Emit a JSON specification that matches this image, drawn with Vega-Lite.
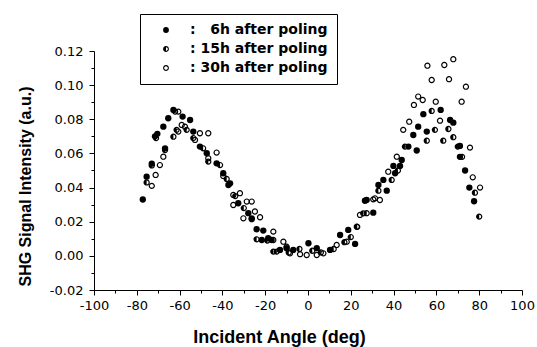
{
  "$schema": "https://vega.github.io/schema/vega-lite/v6.json",
  "width": 428,
  "height": 239,
  "autosize": "none",
  "padding": {"left": 94, "top": 51, "right": 15, "bottom": 57},
  "background": "white",
  "config": {
    "view": {"stroke": null},
    "locale": {"number": {"decimal": ".", "thousands": ",", "grouping": [3], "currency": ["$", ""], "minus": "-"}},
    "axis": {"grid": false, "domainColor": "black", "tickColor": "black", "labelColor": "black", "titleColor": "black"}
  },
  "data": {
    "values": [
      {"angle": -77.2, "signal": 0.033, "series": "6h"},
      {"angle": -75.4, "signal": 0.0464, "series": "6h"},
      {"angle": -73.0, "signal": 0.054, "series": "6h"},
      {"angle": -71.5, "signal": 0.070, "series": "6h"},
      {"angle": -70.4, "signal": 0.0715, "series": "6h"},
      {"angle": -67.6, "signal": 0.0757, "series": "6h"},
      {"angle": -66.8, "signal": 0.063, "series": "6h"},
      {"angle": -65.3, "signal": 0.0806, "series": "6h"},
      {"angle": -62.9, "signal": 0.0855, "series": "6h"},
      {"angle": -58.6, "signal": 0.0816, "series": "6h"},
      {"angle": -55.1, "signal": 0.0796, "series": "6h"},
      {"angle": -53.6, "signal": 0.0728, "series": "6h"},
      {"angle": -50.5, "signal": 0.064, "series": "6h"},
      {"angle": -47.3, "signal": 0.0601, "series": "6h"},
      {"angle": -42.7, "signal": 0.0542, "series": "6h"},
      {"angle": -39.6, "signal": 0.0484, "series": "6h"},
      {"angle": -37.2, "signal": 0.0415, "series": "6h"},
      {"angle": -36.4, "signal": 0.0425, "series": "6h"},
      {"angle": -32.6, "signal": 0.0308, "series": "6h"},
      {"angle": -27.9, "signal": 0.025, "series": "6h"},
      {"angle": -26.3, "signal": 0.022, "series": "6h"},
      {"angle": -24.0, "signal": 0.0156, "series": "6h"},
      {"angle": -20.9, "signal": 0.0148, "series": "6h"},
      {"angle": -21.6, "signal": 0.0093, "series": "6h"},
      {"angle": -18.6, "signal": 0.0103, "series": "6h"},
      {"angle": -17.0, "signal": 0.0093, "series": "6h"},
      {"angle": -13.1, "signal": 0.0035, "series": "6h"},
      {"angle": -10.0, "signal": 0.0045, "series": "6h"},
      {"angle": -6.9, "signal": 0.0035, "series": "6h"},
      {"angle": 0.2, "signal": 0.0074, "series": "6h"},
      {"angle": 4.1, "signal": 0.0045, "series": "6h"},
      {"angle": 10.3, "signal": 0.0035, "series": "6h"},
      {"angle": 15.0, "signal": 0.0122, "series": "6h"},
      {"angle": 18.8, "signal": 0.0152, "series": "6h"},
      {"angle": 22.0, "signal": 0.007, "series": "6h"},
      {"angle": 26.6, "signal": 0.0323, "series": "6h"},
      {"angle": 27.4, "signal": 0.0327, "series": "6h"},
      {"angle": 30.5, "signal": 0.0253, "series": "6h"},
      {"angle": 32.9, "signal": 0.0415, "series": "6h"},
      {"angle": 35.2, "signal": 0.0445, "series": "6h"},
      {"angle": 36.8, "signal": 0.0382, "series": "6h"},
      {"angle": 39.9, "signal": 0.0527, "series": "6h"},
      {"angle": 40.7, "signal": 0.0484, "series": "6h"},
      {"angle": 43.0, "signal": 0.0527, "series": "6h"},
      {"angle": 43.8, "signal": 0.0562, "series": "6h"},
      {"angle": 46.9, "signal": 0.064, "series": "6h"},
      {"angle": 49.2, "signal": 0.0708, "series": "6h"},
      {"angle": 50.8, "signal": 0.0617, "series": "6h"},
      {"angle": 51.5, "signal": 0.0757, "series": "6h"},
      {"angle": 53.9, "signal": 0.083, "series": "6h"},
      {"angle": 55.5, "signal": 0.0728, "series": "6h"},
      {"angle": 62.0, "signal": 0.0855, "series": "6h"},
      {"angle": 66.4, "signal": 0.0796, "series": "6h"},
      {"angle": 67.9, "signal": 0.078, "series": "6h"},
      {"angle": 71.0, "signal": 0.0644, "series": "6h"},
      {"angle": 71.0, "signal": 0.058, "series": "6h"},
      {"angle": 73.4, "signal": 0.050, "series": "6h"},
      {"angle": 75.4, "signal": 0.040, "series": "6h"},
      {"angle": 77.6, "signal": 0.032, "series": "6h"},
      {"angle": -75.4, "signal": 0.043, "series": "15h"},
      {"angle": -73.0, "signal": 0.053, "series": "15h"},
      {"angle": -71.0, "signal": 0.069, "series": "15h"},
      {"angle": -66.8, "signal": 0.062, "series": "15h"},
      {"angle": -62.9, "signal": 0.0698, "series": "15h"},
      {"angle": -61.4, "signal": 0.0738, "series": "15h"},
      {"angle": -56.7, "signal": 0.0738, "series": "15h"},
      {"angle": -53.6, "signal": 0.069, "series": "15h"},
      {"angle": -49.0, "signal": 0.063, "series": "15h"},
      {"angle": -46.6, "signal": 0.0552, "series": "15h"},
      {"angle": -41.1, "signal": 0.0532, "series": "15h"},
      {"angle": -38.0, "signal": 0.045, "series": "15h"},
      {"angle": -34.0, "signal": 0.035, "series": "15h"},
      {"angle": -30.0, "signal": 0.028, "series": "15h"},
      {"angle": -26.3, "signal": 0.0215, "series": "15h"},
      {"angle": -24.0, "signal": 0.0097, "series": "15h"},
      {"angle": -19.0, "signal": 0.009, "series": "15h"},
      {"angle": -16.2, "signal": 0.0025, "series": "15h"},
      {"angle": -14.6, "signal": 0.0025, "series": "15h"},
      {"angle": -9.0, "signal": 0.002, "series": "15h"},
      {"angle": -4.0, "signal": 0.004, "series": "15h"},
      {"angle": 2.0, "signal": 0.003, "series": "15h"},
      {"angle": 6.0, "signal": 0.002, "series": "15h"},
      {"angle": 12.0, "signal": 0.004, "series": "15h"},
      {"angle": 17.0, "signal": 0.008, "series": "15h"},
      {"angle": 20.0, "signal": 0.011, "series": "15h"},
      {"angle": 23.0, "signal": 0.017, "series": "15h"},
      {"angle": 25.8, "signal": 0.0249, "series": "15h"},
      {"angle": 27.4, "signal": 0.025, "series": "15h"},
      {"angle": 32.9, "signal": 0.0382, "series": "15h"},
      {"angle": 39.1, "signal": 0.0445, "series": "15h"},
      {"angle": 42.0, "signal": 0.050, "series": "15h"},
      {"angle": 45.3, "signal": 0.064, "series": "15h"},
      {"angle": 55.5, "signal": 0.0675, "series": "15h"},
      {"angle": 57.8, "signal": 0.0849, "series": "15h"},
      {"angle": 59.3, "signal": 0.0738, "series": "15h"},
      {"angle": 63.2, "signal": 0.0675, "series": "15h"},
      {"angle": 65.6, "signal": 0.0743, "series": "15h"},
      {"angle": 67.9, "signal": 0.0695, "series": "15h"},
      {"angle": 70.0, "signal": 0.064, "series": "15h"},
      {"angle": 72.0, "signal": 0.058, "series": "15h"},
      {"angle": 78.0, "signal": 0.037, "series": "15h"},
      {"angle": 80.0, "signal": 0.023, "series": "15h"},
      {"angle": -73.0, "signal": 0.041, "series": "30h"},
      {"angle": -71.2, "signal": 0.0474, "series": "30h"},
      {"angle": -69.2, "signal": 0.0532, "series": "30h"},
      {"angle": -67.6, "signal": 0.0581, "series": "30h"},
      {"angle": -62.1, "signal": 0.0845, "series": "30h"},
      {"angle": -60.6, "signal": 0.0845, "series": "30h"},
      {"angle": -60.6, "signal": 0.0728, "series": "30h"},
      {"angle": -59.0, "signal": 0.0767, "series": "30h"},
      {"angle": -57.5, "signal": 0.0757, "series": "30h"},
      {"angle": -52.8, "signal": 0.0679, "series": "30h"},
      {"angle": -50.5, "signal": 0.0718, "series": "30h"},
      {"angle": -46.6, "signal": 0.0718, "series": "30h"},
      {"angle": -46.6, "signal": 0.0572, "series": "30h"},
      {"angle": -42.7, "signal": 0.0605, "series": "30h"},
      {"angle": -39.6, "signal": 0.0468, "series": "30h"},
      {"angle": -34.9, "signal": 0.0357, "series": "30h"},
      {"angle": -31.8, "signal": 0.0367, "series": "30h"},
      {"angle": -34.9, "signal": 0.0298, "series": "30h"},
      {"angle": -28.6, "signal": 0.0318, "series": "30h"},
      {"angle": -26.3, "signal": 0.0318, "series": "30h"},
      {"angle": -30.2, "signal": 0.022, "series": "30h"},
      {"angle": -24.8, "signal": 0.026, "series": "30h"},
      {"angle": -22.4, "signal": 0.0226, "series": "30h"},
      {"angle": -16.2, "signal": 0.0142, "series": "30h"},
      {"angle": -16.2, "signal": 0.0093, "series": "30h"},
      {"angle": -11.5, "signal": 0.0083, "series": "30h"},
      {"angle": -10.0, "signal": 0.0054, "series": "30h"},
      {"angle": -8.4, "signal": 0.0015, "series": "30h"},
      {"angle": -3.7, "signal": 0.001, "series": "30h"},
      {"angle": -0.6, "signal": 0.0005, "series": "30h"},
      {"angle": 4.1, "signal": 0.0005, "series": "30h"},
      {"angle": 7.2, "signal": 0.0015, "series": "30h"},
      {"angle": 13.4, "signal": 0.0064, "series": "30h"},
      {"angle": 18.1, "signal": 0.0083, "series": "30h"},
      {"angle": 22.8, "signal": 0.0171, "series": "30h"},
      {"angle": 24.3, "signal": 0.024, "series": "30h"},
      {"angle": 31.3, "signal": 0.0337, "series": "30h"},
      {"angle": 30.5, "signal": 0.0331, "series": "30h"},
      {"angle": 33.6, "signal": 0.0327, "series": "30h"},
      {"angle": 37.5, "signal": 0.0493, "series": "30h"},
      {"angle": 41.5, "signal": 0.0581, "series": "30h"},
      {"angle": 44.5, "signal": 0.0738, "series": "30h"},
      {"angle": 47.3, "signal": 0.0786, "series": "30h"},
      {"angle": 49.5, "signal": 0.0884, "series": "30h"},
      {"angle": 51.5, "signal": 0.0933, "series": "30h"},
      {"angle": 53.6, "signal": 0.0913, "series": "30h"},
      {"angle": 55.8, "signal": 0.1114, "series": "30h"},
      {"angle": 57.8, "signal": 0.103, "series": "30h"},
      {"angle": 59.7, "signal": 0.0903, "series": "30h"},
      {"angle": 61.7, "signal": 0.0792, "series": "30h"},
      {"angle": 63.7, "signal": 0.1118, "series": "30h"},
      {"angle": 65.9, "signal": 0.1035, "series": "30h"},
      {"angle": 67.9, "signal": 0.1152, "series": "30h"},
      {"angle": 71.8, "signal": 0.0903, "series": "30h"},
      {"angle": 73.8, "signal": 0.0991, "series": "30h"},
      {"angle": 75.7, "signal": 0.0634, "series": "30h"},
      {"angle": 77.0, "signal": 0.046, "series": "30h"},
      {"angle": 80.4, "signal": 0.040, "series": "30h"}
    ]
  },
  "layer": [
    {
      "mark": {"type": "point", "filled": true, "color": "black", "size": 40, "strokeWidth": 0, "opacity": 1},
      "encoding": {
        "x": {
          "field": "angle", "type": "quantitative",
          "scale": {"domain": [-100, 100], "nice": false, "zero": false},
          "axis": {
            "orient": "bottom",
            "values": [-100, -80, -60, -40, -20, 0, 20, 40, 60, 80, 100],
            "format": "d",
            "title": "Incident Angle (deg)",
            "titleFont": "Liberation Sans", "titleFontSize": 18, "titleFontWeight": "bold",
            "titleX": 185, "titleY": 47, "titleBaseline": "middle", "titleAnchor": null,
            "labelFont": "DejaVu Sans", "labelFontSize": 13, "labelPadding": 4,
            "tickSize": 5, "domainWidth": 1, "tickWidth": 1, "labelFlush": false
          }
        },
        "y": {
          "field": "signal", "type": "quantitative",
          "scale": {"domain": [-0.02, 0.12], "nice": false, "zero": false},
          "axis": {
            "orient": "left",
            "values": [-0.02, 0, 0.02, 0.04, 0.06, 0.08, 0.1, 0.12],
            "format": ".2f",
            "title": "SHG Signal Intensity (a.u.)",
            "titleFont": "Liberation Sans", "titleFontSize": 16, "titleFontWeight": "bold",
            "titleX": -69, "titleY": 135, "titleBaseline": "middle", "titleAnchor": null, "titleAngle": -90,
            "labelFont": "DejaVu Sans", "labelFontSize": 13, "labelPadding": 6,
            "tickSize": 5, "domainWidth": 1, "tickWidth": 1, "labelFlush": false
          }
        },
        "shape": {
          "field": "series", "type": "nominal",
          "scale": {
            "domain": ["6h", "15h", "30h"],
            "range": [
              "circle",
              "M0,-1A1,1,0,1,1,0,1A1,1,0,1,1,0,-1ZM0,-0.62L0,0.62A0.62,0.62,0,0,0,0,-0.62Z",
              "M0,-1A1,1,0,1,1,0,1A1,1,0,1,1,0,-1ZM0,-0.62A0.62,0.62,0,1,0,0,0.62A0.62,0.62,0,1,0,0,-0.62Z"
            ]
          },
          "legend": {
            "orient": "none", "legendX": 46, "legendY": -37,
            "title": null,
            "strokeColor": "black", "padding": 9,
            "symbolOffset": 10, "symbolSize": 34, "symbolFillColor": "black", "symbolStrokeWidth": 0,
            "labelFont": "DejaVu Sans", "labelFontSize": 14, "labelFontWeight": "bold", "labelColor": "black",
            "labelOffset": 17, "rowPadding": 5, "labelLimit": 400,
            "labelExpr": "': ' + (datum.label == '6h' ? '\u2007' : '') + datum.label + ' after poling'"
          }
        }
      }
    },
    {
      "mark": {"type": "point", "opacity": 0},
      "encoding": {
        "x": {
          "field": "angle", "type": "quantitative",
          "axis": {
            "orient": "bottom", "values": [-90, -70, -50, -30, -10, 10, 30, 50, 70, 90],
            "labels": false, "domain": false, "title": null, "tickSize": 3, "tickWidth": 1
          }
        },
        "y": {
          "field": "signal", "type": "quantitative",
          "axis": {
            "orient": "left", "values": [-0.01, 0.01, 0.03, 0.05, 0.07, 0.09, 0.11],
            "labels": false, "domain": false, "title": null, "tickSize": 3, "tickWidth": 1
          }
        }
      }
    }
  ],
  "resolve": {"axis": {"x": "independent", "y": "independent"}}
}
